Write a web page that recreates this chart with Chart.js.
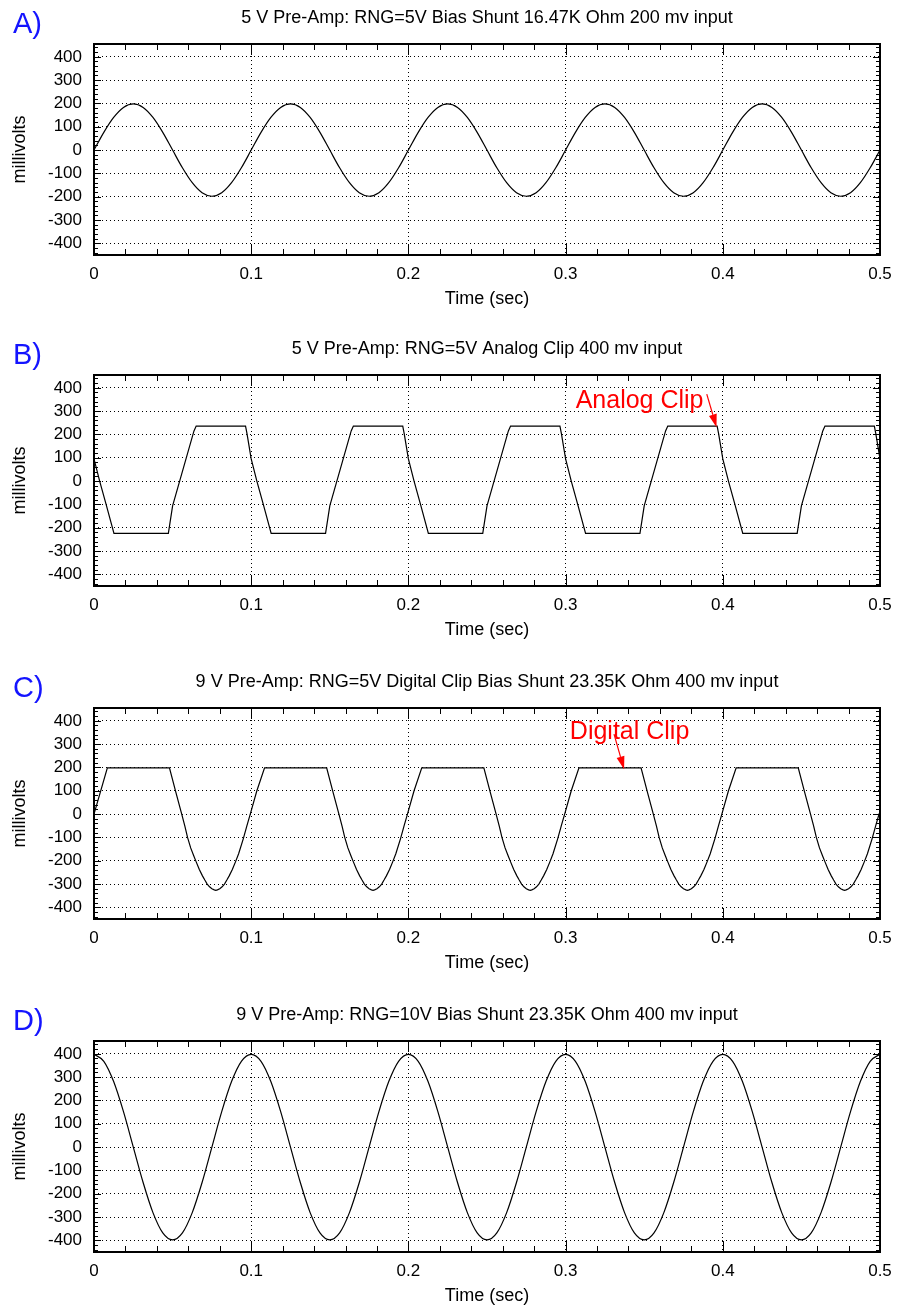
<!DOCTYPE html>
<html>
<head>
<meta charset="utf-8">
<script src="https://cdn.jsdelivr.net/npm/chart.js@4.4.0/dist/chart.umd.min.js"></script>
<style>
html,body{margin:0;padding:0;background:#fff;width:897px;height:1309px;overflow:hidden;}
.panel{position:absolute;left:0;width:897px;height:312px;}
</style>
</head>
<body>
<div class="panel" style="top:0px"><canvas id="chartA"></canvas></div>
<div class="panel" style="top:331px"><canvas id="chartB"></canvas></div>
<div class="panel" style="top:664px"><canvas id="chartC"></canvas></div>
<div class="panel" style="top:997px"><canvas id="chartD"></canvas></div>
<script>
// axes
const xTicks = [0, 0.1, 0.2, 0.3, 0.4, 0.5];
const xTickLabels = ['0', '0.1', '0.2', '0.3', '0.4', '0.5'];
const yTicks = [-400, -300, -200, -100, 0, 100, 200, 300, 400];
const yTickLabels = ['-400', '-300', '-200', '-100', '0', '100', '200', '300', '400'];

// A) 200 mv sine, one sample every 6.25 ms
const sampleStep = 0.00625;
const voltsA = [
  0, 76, 140, 183, 198, 183, 140, 76, 0, -76, -140, -183, -198, -183, -140, -76,
  0, 76, 140, 183, 198, 183, 140, 76, 0, -76, -140, -183, -198, -183, -140, -76,
  0, 76, 140, 183, 198, 183, 140, 76, 0, -76, -140, -183, -198, -183, -140, -76,
  0, 76, 140, 183, 198, 183, 140, 76, 0, -76, -140, -183, -198, -183, -140, -76,
  0, 76, 140, 183, 198, 183, 140, 76, 0, -76, -140, -183, -198, -183, -140, -76,
  0
];

// B) analog clip
const timeB = [
  0.0000, 0.0036, 0.0077, 0.0127, 0.0473, 0.0500, 0.0636, 0.0650, 0.0964, 0.0973,
  0.1000, 0.1036, 0.1077, 0.1127, 0.1473, 0.1500, 0.1636, 0.1650, 0.1964, 0.1973,
  0.2000, 0.2036, 0.2077, 0.2127, 0.2473, 0.2500, 0.2636, 0.2650, 0.2964, 0.2973,
  0.3000, 0.3036, 0.3077, 0.3127, 0.3473, 0.3500, 0.3636, 0.3650, 0.3964, 0.3973,
  0.4000, 0.4036, 0.4077, 0.4127, 0.4473, 0.4500, 0.4636, 0.4650, 0.4964, 0.4973,
  0.5000
];
const voltsB = [
  95, 0, -100, -224, -224, -106, 215, 236, 236, 205,
  95, 0, -100, -224, -224, -106, 215, 236, 236, 205,
  95, 0, -100, -224, -224, -106, 215, 236, 236, 205,
  95, 0, -100, -224, -224, -106, 215, 236, 236, 205,
  95, 0, -100, -224, -224, -106, 215, 236, 236, 205,
  95
];

// C) digital clip
const timeC = [
  0.0000,
  0.0085, 0.0480, 0.0520, 0.0558, 0.0578, 0.0595, 0.0615, 0.0635, 0.0650, 0.0670, 0.0690, 0.0705, 0.0720, 0.0735, 0.0750,
  0.0765, 0.0775, 0.0785, 0.0800, 0.0815, 0.0830, 0.0845, 0.0860, 0.0880, 0.0900, 0.0920, 0.0950, 0.0972, 0.0994, 0.1036,
  0.1085, 0.1480, 0.1520, 0.1558, 0.1578, 0.1595, 0.1615, 0.1635, 0.1650, 0.1670, 0.1690, 0.1705, 0.1720, 0.1735, 0.1750,
  0.1765, 0.1775, 0.1785, 0.1800, 0.1815, 0.1830, 0.1845, 0.1860, 0.1880, 0.1900, 0.1920, 0.1950, 0.1972, 0.1994, 0.2036,
  0.2085, 0.2480, 0.2520, 0.2558, 0.2578, 0.2595, 0.2615, 0.2635, 0.2650, 0.2670, 0.2690, 0.2705, 0.2720, 0.2735, 0.2750,
  0.2765, 0.2775, 0.2785, 0.2800, 0.2815, 0.2830, 0.2845, 0.2860, 0.2880, 0.2900, 0.2920, 0.2950, 0.2972, 0.2994, 0.3036,
  0.3085, 0.3480, 0.3520, 0.3558, 0.3578, 0.3595, 0.3615, 0.3635, 0.3650, 0.3670, 0.3690, 0.3705, 0.3720, 0.3735, 0.3750,
  0.3765, 0.3775, 0.3785, 0.3800, 0.3815, 0.3830, 0.3845, 0.3860, 0.3880, 0.3900, 0.3920, 0.3950, 0.3972, 0.3994, 0.4036,
  0.4085, 0.4480, 0.4520, 0.4558, 0.4578, 0.4595, 0.4615, 0.4635, 0.4650, 0.4670, 0.4690, 0.4705, 0.4720, 0.4735, 0.4750,
  0.4765, 0.4775, 0.4785, 0.4800, 0.4815, 0.4830, 0.4845, 0.4860, 0.4880, 0.4900, 0.4920, 0.4950, 0.4972, 0.4994, 0.5000
];
const voltsC = [
  0,
  198, 198, 95, 0, -52, -100, -145, -180, -205, -238, -265, -283, -300, -312, -320,
  -325, -327, -325, -320, -312, -300, -283, -265, -238, -205, -170, -105, -52, 0, 100,
  198, 198, 95, 0, -52, -100, -145, -180, -205, -238, -265, -283, -300, -312, -320,
  -325, -327, -325, -320, -312, -300, -283, -265, -238, -205, -170, -105, -52, 0, 100,
  198, 198, 95, 0, -52, -100, -145, -180, -205, -238, -265, -283, -300, -312, -320,
  -325, -327, -325, -320, -312, -300, -283, -265, -238, -205, -170, -105, -52, 0, 100,
  198, 198, 95, 0, -52, -100, -145, -180, -205, -238, -265, -283, -300, -312, -320,
  -325, -327, -325, -320, -312, -300, -283, -265, -238, -205, -170, -105, -52, 0, 100,
  198, 198, 95, 0, -52, -100, -145, -180, -205, -238, -265, -283, -300, -312, -320,
  -325, -327, -325, -320, -312, -300, -283, -265, -238, -205, -170, -105, -52, 0, 8
];

// D) 400 mv cosine, same sample step as A
const voltsD = [
  398, 368, 281, 152, 0, -152, -281, -368, -398, -368, -281, -152, 0, 152, 281, 368,
  398, 368, 281, 152, 0, -152, -281, -368, -398, -368, -281, -152, 0, 152, 281, 368,
  398, 368, 281, 152, 0, -152, -281, -368, -398, -368, -281, -152, 0, 152, 281, 368,
  398, 368, 281, 152, 0, -152, -281, -368, -398, -368, -281, -152, 0, 152, 281, 368,
  398, 368, 281, 152, 0, -152, -281, -368, -398, -368, -281, -152, 0, 152, 281, 368,
  398
];
const timeA = voltsA.map((v, i) => i * sampleStep);
const timeD = voltsD.map((v, i) => i * sampleStep);

const FONT = "'Liberation Sans', Arial, Helvetica, sans-serif";
Chart.defaults.font.family = FONT;
Chart.defaults.color = '#000';

// minor tick positions for the inner tick marks
const xMinor = [];
for (let i = 0; i <= 25; i++) xMinor.push(i * 0.02);
const yMinor = [];
for (let v = -440; v <= 440; v += 20) yMinor.push(v);

const framePlugin = {
  id: 'frame',
  afterDatasetsDraw(chart) {
    const {ctx, chartArea: a, scales: {x, y}} = chart;
    ctx.save();
    ctx.strokeStyle = '#000';
    ctx.lineWidth = 1;
    ctx.beginPath();
    xMinor.forEach(v => {
      const px = Math.round(x.getPixelForValue(v)) + 0.5;
      const len = xTicks.some(t => Math.abs(t - v) < 1e-9) ? 11 : 6;
      ctx.moveTo(px, a.bottom); ctx.lineTo(px, a.bottom - len);
      ctx.moveTo(px, a.top); ctx.lineTo(px, a.top + len);
    });
    yMinor.forEach(v => {
      const py = Math.round(y.getPixelForValue(v)) + 0.5;
      const len = v % 100 === 0 ? 7 : 4;
      ctx.moveTo(a.left, py); ctx.lineTo(a.left + len, py);
      ctx.moveTo(a.right, py); ctx.lineTo(a.right - len, py);
    });
    ctx.stroke();
    ctx.lineWidth = 2;
    ctx.strokeRect(a.left, a.top, a.right - a.left, a.bottom - a.top);
    ctx.restore();
  }
};

const letterPlugin = {
  id: 'letter',
  afterDraw(chart, args, opts) {
    const ctx = chart.ctx;
    ctx.save();
    ctx.font = '29px ' + FONT;
    ctx.fillStyle = '#1414ff';
    ctx.textBaseline = 'alphabetic';
    ctx.fillText(opts.text, 13, 33);
    ctx.restore();
  }
};

const notePlugin = {
  id: 'note',
  afterDraw(chart, args, opts) {
    if (!opts.text) return;
    const {ctx, scales: {x, y}} = chart;
    ctx.save();
    ctx.fillStyle = '#ff0000';
    ctx.strokeStyle = '#ff0000';
    ctx.font = '25px ' + FONT;
    ctx.textBaseline = 'alphabetic';
    ctx.fillText(opts.text, x.getPixelForValue(opts.textAt[0]), y.getPixelForValue(opts.textAt[1]));
    const x0 = x.getPixelForValue(opts.from[0]), y0 = y.getPixelForValue(opts.from[1]);
    const x1 = x.getPixelForValue(opts.to[0]), y1 = y.getPixelForValue(opts.to[1]);
    const ang = Math.atan2(y1 - y0, x1 - x0);
    const len = 13, half = 4;
    const bx = x1 - len * Math.cos(ang), by = y1 - len * Math.sin(ang);
    ctx.lineWidth = 1.2;
    ctx.beginPath(); ctx.moveTo(x0, y0); ctx.lineTo(bx, by); ctx.stroke();
    ctx.beginPath();
    ctx.moveTo(x1, y1);
    ctx.lineTo(bx - half * Math.sin(ang), by + half * Math.cos(ang));
    ctx.lineTo(bx + half * Math.sin(ang), by - half * Math.cos(ang));
    ctx.closePath(); ctx.fill();
    ctx.restore();
  }
};

function makeChart(id, letter, title, times, volts, smooth, note) {
  new Chart(document.getElementById(id), {
    type: 'line',
    data: {
      datasets: [{
        data: times.map((t, i) => ({x: t, y: volts[i]})),
        borderColor: '#000',
        borderWidth: 1.2,
        pointRadius: 0,
        fill: false,
        tension: 0,
        cubicInterpolationMode: smooth ? 'monotone' : 'default'
      }]
    },
    options: {
      responsive: true,
      maintainAspectRatio: false,
      animation: false,
      events: [],
      layout: {padding: {left: 0, right: 17, top: 0, bottom: 2}},
      scales: {
        x: {
          type: 'linear', min: 0, max: 0.5,
          afterBuildTicks: s => { s.ticks = xTicks.map(v => ({value: v})); },
          afterFit: s => { s.height = 55; s.paddingLeft = 0; s.paddingRight = 0; },
          ticks: {callback: (v, i) => xTickLabels[i], font: {size: 17}, padding: 9.5, maxRotation: 0, autoSkip: false},
          grid: {color: '#000', lineWidth: 1, drawTicks: false},
          border: {display: false, dash: [1, 3]},
          title: {display: true, text: 'Time (sec)', font: {size: 18}, padding: {top: 0, bottom: 0}}
        },
        y: {
          min: -450, max: 455,
          afterBuildTicks: s => { s.ticks = yTicks.map(v => ({value: v})); },
          afterFit: s => { s.width = 94; s.paddingTop = 0; s.paddingBottom = 0; },
          ticks: {callback: (v, i) => yTickLabels[i], font: {size: 17}, padding: 12, autoSkip: false},
          grid: {color: '#000', lineWidth: 1, drawTicks: false},
          border: {display: false, dash: [1, 3]},
          title: {display: true, text: 'millivolts', font: {size: 18}, padding: {top: 9.5, bottom: 0}}
        }
      },
      plugins: {
        legend: {display: false},
        tooltip: {enabled: false},
        title: {display: true, text: title, fullSize: false, font: {size: 18, weight: 'normal'}, padding: {top: 7.2, bottom: 15.2}},
        letter: {text: letter},
        note: note || {}
      }
    },
    plugins: [framePlugin, letterPlugin, notePlugin]
  });
}

makeChart('chartA', 'A)', '5 V Pre-Amp: RNG=5V Bias Shunt 16.47K Ohm 200 mv input', timeA, voltsA, true);
makeChart('chartB', 'B)', '5 V Pre-Amp: RNG=5V Analog Clip 400 mv input', timeB, voltsB, false,
  {text: 'Analog Clip', textAt: [0.3064, 314], from: [0.3898, 373], to: [0.396, 231]});
makeChart('chartC', 'C)', '9 V Pre-Amp: RNG=5V Digital Clip Bias Shunt 23.35K Ohm 400 mv input', timeC, voltsC, false,
  {text: 'Digital Clip', textAt: [0.3027, 322], from: [0.3308, 343], to: [0.3372, 192]});
makeChart('chartD', 'D)', '9 V Pre-Amp: RNG=10V Bias Shunt 23.35K Ohm 400 mv input', timeD, voltsD, true);
</script>
</body>
</html>
